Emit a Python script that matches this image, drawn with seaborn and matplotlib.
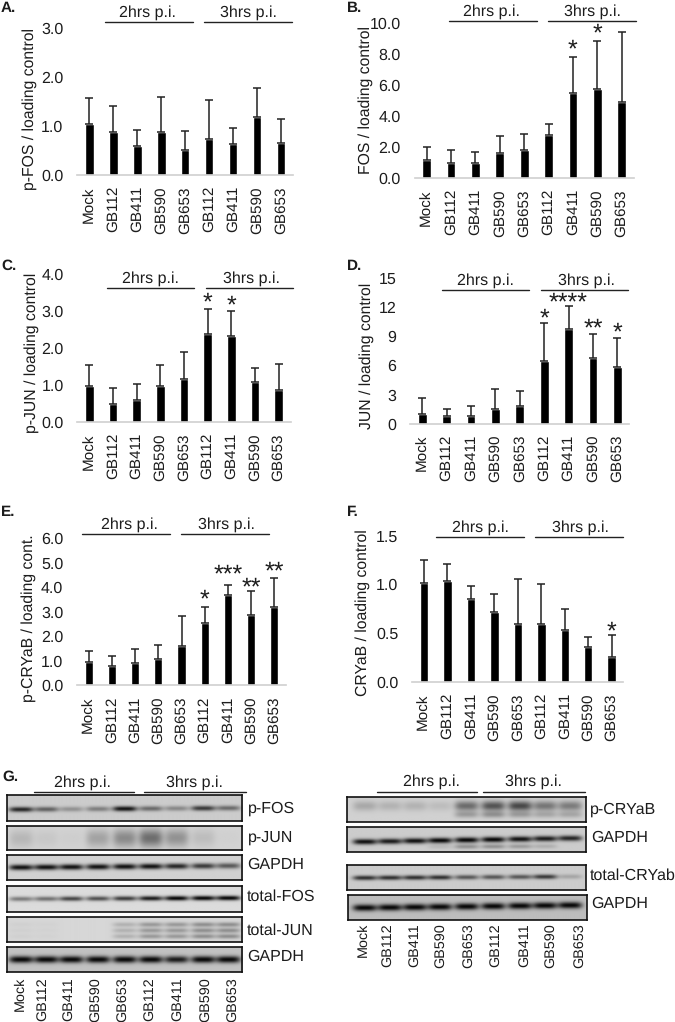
import numpy as np
import pandas as pd
import matplotlib
matplotlib.use("Agg")
import matplotlib.pyplot as plt
import seaborn as sns

W, H = 675, 1022
LANES = ["Mock", "GB112", "GB411", "GB590", "GB653", "GB112", "GB411", "GB590", "GB653"]
TEXT = "#1c1c1c"

# bar heights and tops of the error bars
a_val = [1.04, 0.87, 0.60, 0.87, 0.51, 0.74, 0.63, 1.19, 0.65]
a_err = [1.57, 1.42, 0.92, 1.60, 0.89, 1.54, 0.97, 1.78, 1.15]
b_val = [1.16, 0.97, 0.97, 1.61, 1.80, 2.75, 5.48, 5.76, 4.90]
b_err = [1.98, 1.78, 1.68, 2.71, 2.82, 3.46, 7.78, 8.84, 9.38]
c_val = [0.96, 0.49, 0.60, 0.96, 1.15, 2.37, 2.33, 1.07, 0.87]
c_err = [1.54, 0.91, 1.03, 1.54, 1.89, 3.06, 2.99, 1.46, 1.58]
d_val = [1.03, 0.79, 0.79, 1.48, 1.82, 6.45, 9.75, 6.76, 5.87]
d_err = [2.68, 1.48, 1.79, 3.60, 3.40, 10.33, 12.08, 9.23, 8.82]
e_val = [0.95, 0.78, 0.90, 1.07, 1.60, 2.56, 3.69, 2.86, 3.21]
e_err = [1.41, 1.18, 1.47, 1.65, 2.84, 3.20, 4.08, 3.85, 4.38]
f_val = [1.02, 1.04, 0.85, 0.72, 0.59, 0.59, 0.53, 0.36, 0.26]
f_err = [1.25, 1.21, 0.98, 0.90, 1.06, 1.00, 0.75, 0.46, 0.48]

# band darkness per lane, 0 is nothing and 1 is a full black band
pfos_bands = [0.85, 0.55, 0.30, 0.40, 0.95, 0.50, 0.35, 0.75, 0.50]
pjun_smear = [0.14, 0.06, 0.03, 0.24, 0.36, 0.50, 0.32, 0.11, 0.02]
gapdh1_bands = [0.95, 0.95, 0.95, 0.95, 0.95, 0.95, 0.85, 0.75, 0.60]
tfos_bands = [0.45, 0.50, 0.70, 0.65, 0.75, 0.90, 1.00, 1.00, 1.00]
tjun_bands = [0.03, 0.02, 0.00, 0.00, 0.18, 0.30, 0.30, 0.35, 0.35]
gapdh2_bands = [1.00, 1.00, 1.00, 1.00, 1.00, 1.00, 0.90, 1.00, 1.00]
pcry_upper = [0.20, 0.15, 0.15, 0.10, 0.50, 0.62, 0.68, 0.45, 0.42]
pcry_lower = [0.00, 0.00, 0.00, 0.00, 0.25, 0.30, 0.25, 0.20, 0.20]
gapdh3_bands = [0.95, 0.90, 0.95, 1.00, 1.00, 1.00, 0.95, 0.90, 0.85]
gapdh3_lower = [0.00, 0.00, 0.00, 0.10, 0.30, 0.30, 0.25, 0.15, 0.00]
tcry_bands = [0.80, 0.80, 0.80, 0.80, 0.60, 0.60, 0.60, 0.75, 0.20]
gapdh4_bands = [1.00, 1.00, 1.00, 1.00, 1.00, 1.00, 1.00, 1.00, 1.00]

sns.set_theme(style="white")
plt.rcParams["font.family"] = ["Liberation Sans", "DejaVu Sans"]
plt.rcParams["text.hinting"] = "no_hinting"

fig = plt.figure(figsize=(W / 100, H / 100), dpi=100)
over = fig.add_axes([0, 0, 1, 1], zorder=5)
over.set_xlim(0, W)
over.set_ylim(H, 0)
over.axis("off")


def px_axes(left, right, top, bottom):
    return fig.add_axes([left / W, 1 - bottom / H, (right - left) / W, (bottom - top) / H])


def header(text_2h, text_3h, text_y, line_2h, line_3h, line_y):
    over.text(text_2h, text_y, "2hrs p.i.", ha="center", va="center", fontsize=11.5, color=TEXT)
    over.text(text_3h, text_y, "3hrs p.i.", ha="center", va="center", fontsize=11.5, color=TEXT)
    for x0, x1 in (line_2h, line_3h):
        over.plot([x0, x1], [line_y, line_y], color="#222222", lw=1.0)


def bar_panel(box, first, last, ymax, ticks, fmt, val, err, ylabel, label_xy, stars=()):
    step = (last - first) / 8
    ax = px_axes(first - step / 2, last + step / 2, box[0], box[1])
    df = pd.DataFrame({"lane": range(9), "value": val})
    sns.barplot(data=df, x="lane", y="value", color="black", saturation=1, width=0.36,
                errorbar=None, ax=ax)
    upper = np.array(err) - np.array(val)
    ax.errorbar(range(9), val, yerr=[np.zeros(9), upper], fmt="none", ecolor="#222222",
                elinewidth=1.1, capsize=3.2, capthick=1.1)
    ax.set_xlim(-0.5, 8.5)
    ax.set_ylim(0, ymax)
    ax.set_xticks(range(9), LANES, rotation=90, fontsize=11, color=TEXT)
    ax.set_yticks(ticks, [fmt.format(t) for t in ticks], fontsize=11.5, color=TEXT)
    ax.tick_params(axis="x", length=0, pad=8)
    ax.tick_params(axis="y", length=0, pad=10)
    ax.patch.set_alpha(0)
    sns.despine(ax=ax, left=True)
    ax.spines["bottom"].set_color("#cfcfcf")
    ax.spines["bottom"].set_linewidth(1.2)
    ax.set_xlabel("")
    ax.set_ylabel(ylabel, fontsize=11.3, color=TEXT, va="center")
    ax.yaxis.set_label_coords(label_xy[0], label_xy[1], transform=over.transData)
    for lane, mark, rise in stars:
        ax.annotate(mark, xy=(lane, err[lane]), xytext=(0, rise - 11), textcoords="offset pixels",
                    ha="center", va="baseline", fontsize=18, color=TEXT)
    return ax


def blot(rect, lanes, bg, bands, label, label_xy, half_width=12):
    x0, x1, y0, y1 = rect
    ny, nx = int((y1 - y0) * 2), int((x1 - x0) * 2)
    xs = np.linspace(x0, x1, nx)
    ys = np.linspace(0, 1, ny)
    dark = np.zeros((ny, nx))
    h = y1 - y0
    for frac0, frac1, sigma, strengths in bands:
        for centre, s in zip(lanes, strengths):
            t = (centre - x0) / (x1 - x0)
            yc = frac0 + (frac1 - frac0) * t
            across = np.exp(-(((xs - centre) / half_width) ** 4))
            down = np.exp(-(((ys - yc) * h / sigma) ** 2))
            dark += s * np.outer(down, across)
    img = bg - np.clip(dark, 0, 1) * (bg - 0.03)
    ax = px_axes(x0, x1, y0, y1)
    ax.imshow(img, cmap="gray", vmin=0, vmax=1, aspect="auto", interpolation="bilinear")
    ax.set_xticks([])
    ax.set_yticks([])
    for sp in ax.spines.values():
        sp.set_visible(True)
        sp.set_color("#111111")
        sp.set_linewidth(1.2)
    over.text(label_xy[0], label_xy[1], label, ha="left", va="center", fontsize=11.5, color=TEXT)


# bar panels
bar_panel((28.3, 175), 89.3, 281, 3.0, [0, 1, 2, 3], "{:.1f}", a_val, a_err,
          "p-FOS / loading control", (30, 109))
header(147.7, 248.3, 12.3, (105.3, 193), (204, 292), 21.7)

bar_panel((22.7, 178), 426.7, 621.7, 10.0, [0, 2, 4, 6, 8, 10], "{:.1f}", b_val, b_err,
          "FOS / loading control", (366, 100),
          stars=[(6, "*", 12), (7, "*", 11)])
header(491.7, 592.3, 11.7, (449.3, 536.7), (548.3, 636), 21)

bar_panel((274, 422), 89.3, 278.7, 4.0, [0, 1, 2, 3, 4], "{:.1f}", c_val, c_err,
          "p-JUN / loading control", (31.7, 352.5),
          stars=[(5, "*", 10), (6, "*", 10)])
header(150.7, 251.3, 278.3, (106.7, 194), (206, 293.3), 288)

bar_panel((278, 423.7), 422.3, 617.3, 15, [0, 3, 6, 9, 12, 15], "{:d}", d_val, d_err,
          "JUN / loading control", (366.7, 355.8),
          stars=[(5, "*", 9), (6, "****", 8), (7, "**", 10), (8, "*", 10)])
header(485.7, 586.7, 281, (442, 529.3), (541, 628.3), 290)

bar_panel((538.3, 685.3), 88.7, 274.3, 6.0, [0, 1, 2, 3, 4, 5, 6], "{:.1f}", e_val, e_err,
          "p-CRYaB / loading cont.", (28.3, 618),
          stars=[(5, "*", 11), (6, "***", 15), (7, "**", 8), (8, "**", 11)])
header(129, 226.7, 525, (82.3, 169.7), (181.3, 268.7), 534.3)

bar_panel((535.7, 682), 424, 611.7, 1.5, [0, 0.5, 1.0, 1.5], "{:.1f}", f_val, f_err,
          "CRYaB / loading control", (363, 613),
          stars=[(8, "*", 8)])
header(480, 580.7, 527.3, (436.3, 523.7), (535, 622.7), 536.7)

for letter, x, y in [("A.", 1, 8), ("B.", 347, 8), ("C.", 1, 266), ("D.", 347, 266),
                     ("E.", 1, 512), ("F.", 347, 512), ("G.", 2, 777)]:
    over.text(x, y, letter, fontsize=11, fontweight="bold", color=TEXT, ha="left", va="center")

# western blots, left group
left_lanes = [20.7, 45.7, 70.7, 97.3, 124, 150, 175.7, 202.3, 227.3]
left_ticks = [20, 43, 69, 96, 123, 150, 178, 206, 233]
blot((6.7, 241.7, 795, 821), left_lanes, 0.80, [(0.56, 0.50, 2.6, pfos_bands)], "p-FOS", (248, 809))
blot((6.7, 241.7, 825.7, 850), left_lanes, 0.83, [(0.55, 0.50, 9, pjun_smear)], "p-JUN", (248, 838))
blot((6.7, 241.7, 854.7, 880), left_lanes, 0.82, [(0.52, 0.45, 2.8, gapdh1_bands)], "GAPDH", (247, 865))
blot((6.7, 241.7, 886, 911.7), left_lanes, 0.86, [(0.50, 0.46, 2.4, tfos_bands)], "total-FOS", (247, 897))
blot((6.7, 241.7, 916.7, 941.7), left_lanes, 0.84,
     [(0.30, 0.30, 2.4, tjun_bands), (0.54, 0.54, 2.4, tjun_bands), (0.78, 0.78, 2.4, tjun_bands)],
     "total-JUN", (247, 931))
blot((6.7, 241.7, 946.7, 971.7), left_lanes, 0.76, [(0.52, 0.52, 3.4, gapdh2_bands)], "GAPDH", (247, 957))
header(82, 194, 783, (34.3, 134.3), (144, 245.7), 792)

# western blots, right group
right_lanes = [365, 390, 415, 440, 466.7, 493.3, 520, 545, 570]
right_ticks = [363.3, 387.7, 415, 441, 468.3, 495.7, 524.3, 551, 579.3]
blot((347.3, 585.7, 796.7, 822.3), right_lanes, 0.82,
     [(0.38, 0.38, 5.0, pcry_upper), (0.72, 0.72, 3.2, pcry_lower)], "p-CRYaB", (590, 810))
blot((347.3, 585.7, 826.7, 852.3), right_lanes, 0.80,
     [(0.62, 0.46, 2.8, gapdh3_bands), (0.82, 0.78, 2.2, gapdh3_lower)], "GAPDH", (591, 838))
blot((347.3, 585.7, 865, 890), right_lanes, 0.80, [(0.52, 0.46, 2.4, tcry_bands)], "total-CRYab", (590, 876))
blot((348.3, 586.7, 895, 920), right_lanes, 0.74, [(0.52, 0.40, 3.4, gapdh4_bands)], "GAPDH", (591, 904))
header(431, 533.7, 781.7, (376.7, 476.7), (482.7, 585), 791.7)

for xs, top in ((left_ticks, 977), (right_ticks, 923)):
    for x, name in zip(xs, LANES):
        over.text(x, top, name, rotation=90, ha="center", va="top", fontsize=10.4, color=TEXT)

fig.savefig("out.png", dpi=100)
